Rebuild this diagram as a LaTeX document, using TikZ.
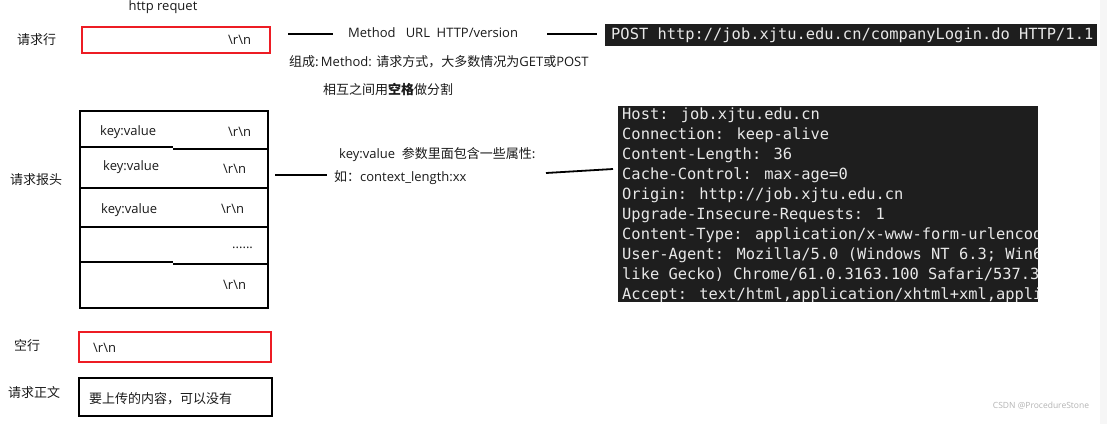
\documentclass[tikz,border=0pt]{standalone}
\usepackage{fontspec}
\setmainfont{Open Sans}
\newfontfamily\cjk{Noto Sans CJK SC}
\newfontfamily\mono{DejaVu Sans Mono}
\definecolor{txt}{HTML}{1A1A1A}
\definecolor{boxred}{HTML}{ED1C24}
\definecolor{codebg}{HTML}{1E1E1E}
\definecolor{codefg}{HTML}{E8E8E8}
\definecolor{stripgray}{HTML}{F6F6F6}
\definecolor{wm}{HTML}{B4B4B4}
\tikzset{
  lbl/.style={inner sep=0pt, text=txt, font=\fontsize{13}{15}\selectfont},
  lblw/.style={lbl, anchor=west},
  redbox/.style={draw=boxred, line width=2pt, minimum width=#1, inner sep=0pt},
  blkbox/.style={draw=black, line width=1.6pt, inner sep=0pt},
  conn/.style={draw=black, line width=1.8pt},
  divider/.style={draw=black, line width=1.4pt},
  codebox/.style={fill=codebg, inner sep=0pt, anchor=north west},
  codeline/.style={inner sep=0pt, anchor=west, text=codefg, font=\mono\fontsize{15.4}{20}\selectfont},
}
\newcommand{\crlf}{\textbackslash r\textbackslash n}
\begin{document}
\begin{tikzpicture}[x=1pt,y=-1pt]
\useasboundingbox (0,0) rectangle (1107,424);
\fill[white] (0,0) rectangle (1107,424);
\fill[stripgray] (1100,0) rectangle (1107,424);

% ---- request line ----
\node[lbl] (title) at (163,7) {http requet};
\node[lblw] (lreq) at (17,40) {\cjk 请求行};
\node[redbox=188pt, minimum height=26pt, anchor=north west] (reqbox) at (81,26) {};
\node[lblw] (reqcrlf) at (228,40) {\crlf};

\coordinate (l1a) at (288,34); \coordinate (l1b) at (333,34);
\draw[conn] (l1a) -- (l1b);
\node[lblw] (mline) at (348,33) {Method\ \ \ URL\ \ HTTP/version};
\coordinate (l2a) at (547,34); \coordinate (l2b) at (597,34);
\draw[conn] (l2a) -- (l2b);

\node[codebox, minimum width=492pt, minimum height=22pt] (postbox) at (605,24) {};
\node[codeline] (posttxt) at (611,35) {POST http://job.xjtu.edu.cn/companyLogin.do HTTP/1.1};

\node[lblw] (zc) at (289,62) {\cjk 组成:\,\rmfamily Method: \cjk 请求方式，大多数情况为\rmfamily GET\cjk 或\rmfamily POST};
\node[lblw] (sep) at (323,89) {\cjk 相互之间用\textbf{空格}做分割};

% ---- request header ----
\node[lblw] (lhdr) at (10,180) {\cjk 请求报头};
\node[blkbox, minimum width=188pt, minimum height=197pt, anchor=north west] (hdr) at (79,110) {};
\draw[divider] (79,147) -- (173,147);
\draw[divider] (173,149) -- (267,149);
\draw[divider] (79,188) -- (267,188);
\draw[divider] (79,227) -- (267,227);
\draw[divider] (79,262) -- (173,262);
\draw[divider] (173,264) -- (267,264);
\node[lblw] (kv1) at (100,132) {key:value};
\node[lblw] (cr1) at (228,132) {\crlf};
\node[lblw] (kv2) at (103,167) {key:value};
\node[lblw] (cr2) at (223,169) {\crlf};
\node[lblw] (kv3) at (101,210) {key:value};
\node[lblw] (cr3) at (221,209) {\crlf};
\node[lblw] (dots) at (232,248) {......};
\node[lblw] (cr5) at (223,285) {\crlf};

\coordinate (l3a) at (275,175); \coordinate (l3b) at (327,175);
\draw[conn] (l3a) -- (l3b);
\node[lblw] (kvdesc) at (339,155) {key:value\ \ \cjk 参数里面包含一些属性:};
\node[lblw] (kvex) at (334,178) {\cjk 如：\rmfamily context\_length:xx};
\coordinate (l4a) at (546,173); \coordinate (l4b) at (613,169);
\draw[conn] (l4a) -- (l4b);

\node[codebox, minimum width=420pt, minimum height=196pt] (hdrbox) at (618,106) {};
\begin{scope}
\clip (618,106) rectangle (1038,302);
\foreach \t [count=\i from 0] in {
  {Host: job.xjtu.edu.cn},
  {Connection: keep-alive},
  {Content-Length: 36},
  {Cache-Control: max-age=0},
  {Origin: http://job.xjtu.edu.cn},
  {Upgrade-Insecure-Requests: 1},
  {Content-Type: application/x-www-form-urlencoded},
  {User-Agent: Mozilla/5.0 (Windows NT 6.3; Win64; x64)},
  {like Gecko) Chrome/61.0.3163.100 Safari/537.36},
  {Accept: text/html,application/xhtml+xml,application/xml}}
  \node[codeline] (h\i) at (622,115+20*\i) {\t};
\end{scope}

% ---- blank line ----
\node[lblw] (lblank) at (14,346) {\cjk 空行};
\node[redbox=192pt, minimum height=30pt, anchor=north west] (blankbox) at (78,331) {};
\node[lblw] (blankcr) at (93,348) {\crlf};

% ---- body ----
\node[lblw] (lbody) at (8,393) {\cjk 请求正文};
\node[blkbox, line width=2.4pt, minimum width=193pt, minimum height=38pt, anchor=north west] (bodybox) at (78,377) {};
\node[lblw] (bodytxt) at (89,399) {\cjk 要上传的内容，可以没有};

\node[inner sep=0pt, text=wm, font=\fontsize{8.5}{10}\selectfont] (wmk) at (1041,406) {CSDN @ProcedureStone};
\end{tikzpicture}
\end{document}
